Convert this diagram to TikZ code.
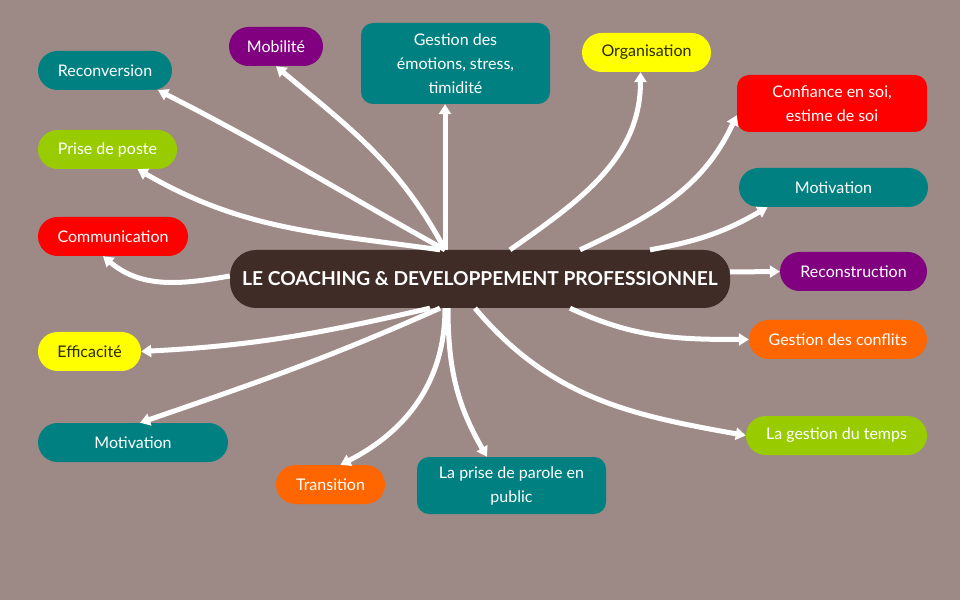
\documentclass[tikz,border=0pt]{standalone}
\usepackage{fontspec}
\setmainfont{Lato}
\usetikzlibrary{arrows.meta}
\definecolor{bg}{HTML}{9D8986}
\definecolor{brown}{HTML}{3F2C26}
\definecolor{teal}{HTML}{008080}
\definecolor{purple}{HTML}{800080}
\definecolor{lime}{HTML}{99CC00}
\definecolor{orange}{HTML}{FF6600}
\definecolor{yel}{HTML}{FFFF00}
\definecolor{dark}{HTML}{2A2A00}
\begin{document}
\begin{tikzpicture}[x=1pt,y=1pt,>={Triangle[width=12pt,length=10pt]},
  leaf/.style={rounded corners=19.5pt,minimum height=39pt,inner sep=0pt,
    text=white,align=center,font=\fontsize{16}{24}\selectfont},
  card/.style={leaf,rounded corners=12pt},
  link/.style={draw=white,line width=5pt}]
\fill[bg] (0,0) rectangle (960,600);
% centre
\node[fill=brown,rounded corners=26pt,minimum width=500pt,minimum height=58pt,
  text=white,font=\fontsize{19.2}{22}\bfseries] (core) at (480,321)
  {LE COACHING \& DEVELOPPEMENT PROFESSIONNEL};
% top and left
\node[leaf,fill=teal,minimum width=134pt] (recon) at (105,529.5) {Reconversion};
\node[leaf,fill=purple,minimum width=94pt] (mobil) at (276,553.5) {Mobilité};
\node[card,fill=teal,minimum width=189pt,minimum height=81pt] (emot) at (455.5,536.5)
  {Gestion des\\émotions, stress,\\timidité};
\node[leaf,fill=yel,text=dark,minimum width=129pt] (organ) at (646.5,547.5) {Organisation};
\node[leaf,fill=lime,minimum width=139pt] (prise) at (107.5,450.5) {Prise de poste};
\node[leaf,fill=red,minimum width=150pt] (commu) at (113,363.5) {Communication};
\node[leaf,fill=yel,text=dark,minimum width=103pt] (effic) at (89.5,248.5) {Efficacité};
\node[leaf,fill=teal,minimum width=190pt] (motivl) at (133,157.5) {Motivation};
% right and bottom
\node[card,fill=red,minimum width=190pt,minimum height=57pt] (confi) at (832,496.5)
  {Confiance en soi,\\estime de soi};
\node[leaf,fill=teal,minimum width=189pt] (motivr) at (833.5,412.5) {Motivation};
\node[leaf,fill=purple,minimum width=147pt] (recons) at (853.5,328.5) {Reconstruction};
\node[leaf,fill=orange,minimum width=178pt] (confl) at (838,260.5) {Gestion des conflits};
\node[leaf,fill=lime,minimum width=181pt] (temps) at (836.5,164.5) {La gestion du temps};
\node[leaf,fill=orange,minimum width=109pt] (trans) at (330.5,115.5) {Transition};
\node[card,fill=teal,minimum width=189pt,minimum height=57pt] (parole) at (511.5,114.5)
  {La prise de parole en\\public};
% links
\draw[->,link] ([xshift=-35pt]core.north) to[out=151,in=-27] ([xshift=53pt]recon.south);
\draw[->,link] ([xshift=-35pt]core.north) to[out=118,in=-40] (mobil.south);
\draw[->,link] ([xshift=-35pt]core.north) -- ([xshift=-10.5pt]emot.south);
\draw[->,link] ([xshift=30pt]core.north) to[out=35,in=-90] ([xshift=-6pt]organ.south);
\draw[->,link] ([xshift=100pt]core.north) to[out=25,in=-115] ([yshift=17pt]confi.south west);
\draw[->,link] ([xshift=170pt]core.north) to[out=10,in=-150] ([xshift=-66pt]motivr.south);
\draw[->,link] ([yshift=7pt]core.east) -- (recons.west);
\draw[->,link] ([xshift=90pt]core.south) to[out=-25,in=180] (confl.west);
\draw[->,link] ([xshift=-5pt]core.south) to[out=-50,in=170] (temps.west);
\draw[->,link] ([xshift=-32pt]core.south) to[out=-90,in=120] ([xshift=-24.5pt]parole.north);
\draw[->,link] ([xshift=-35pt]core.south) to[out=-90,in=27] ([xshift=10pt]trans.north);
\draw[->,link] ([xshift=-40pt]core.south) to[out=204,in=19] ([xshift=7pt]motivl.north);
\draw[->,link] ([xshift=-50pt]core.south) to[out=193,in=3] (effic.east);
\draw[->,link] ([yshift=3pt]core.west) to[out=190,in=-40] ([xshift=-10pt]commu.south);
\draw[->,link] ([xshift=-40pt]core.north) to[out=172,in=-30] ([xshift=30pt]prise.south);
\end{tikzpicture}
\end{document}
